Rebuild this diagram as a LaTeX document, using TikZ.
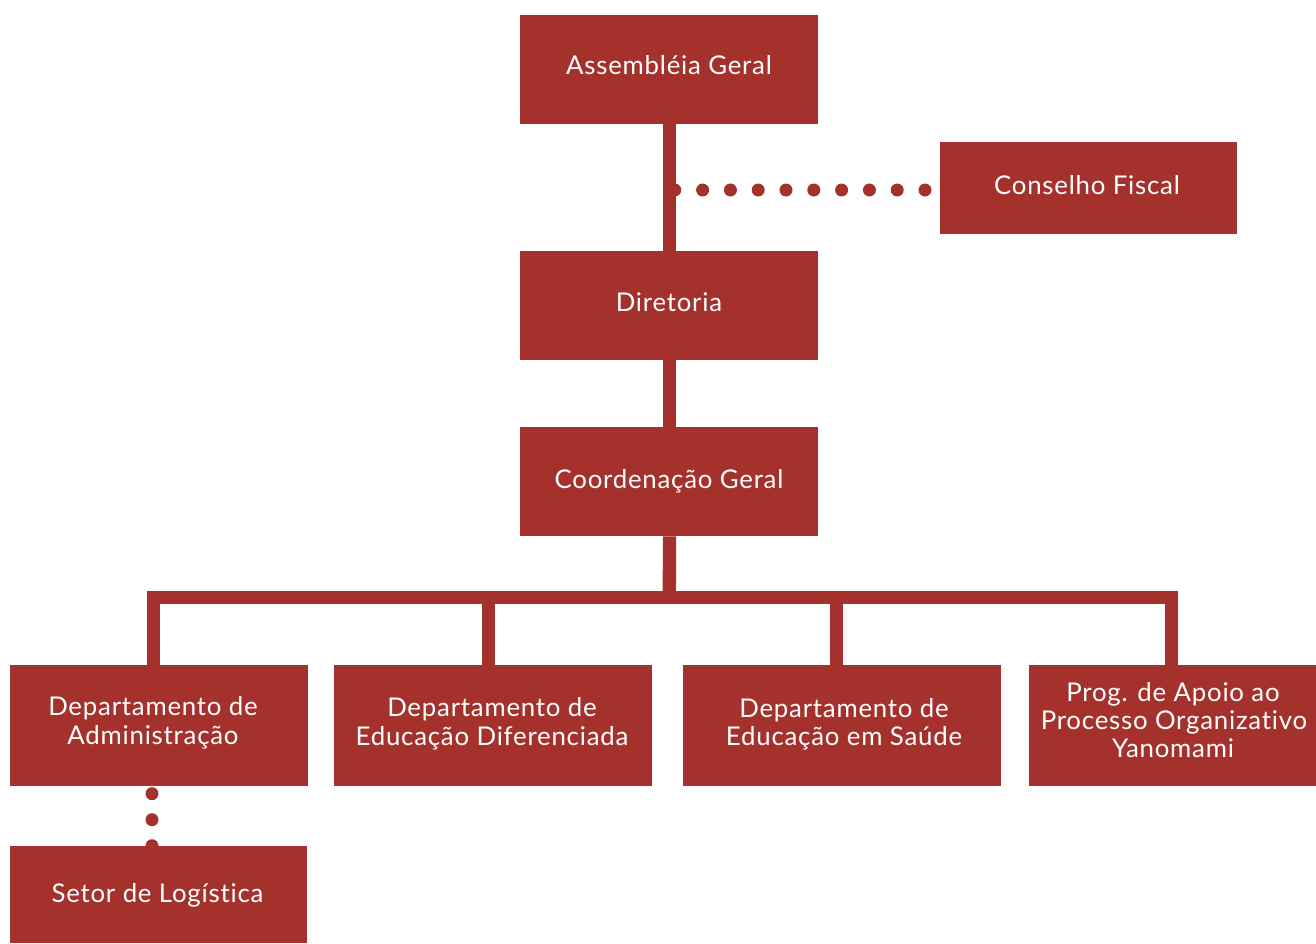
\documentclass[tikz,border=0pt]{standalone}
\usepackage{fontspec}
\setmainfont{Lato}[LetterSpace=3,Ligatures={NoCommon}]
\usetikzlibrary{calc}
\definecolor{org}{RGB}{165,49,45}
\pgfdeclarelayer{bg}
\pgfsetlayers{bg,main}
\begin{document}
\begin{tikzpicture}[x=1pt,y=-1pt,
  box/.style={fill=org,draw=none,inner sep=0pt,anchor=north west},
  lbl/.style={text=white,anchor=base,inner sep=0pt,font=\fontsize{25.8}{29}\selectfont},
  conn/.style={draw=org,line width=13.3pt},
  hdots/.style={draw=org,line width=13pt,line cap=round,dash pattern=on 0pt off 27.8pt},
  vdots/.style={draw=org,line width=13pt,line cap=round,dash pattern=on 0pt off 26pt}]
\useasboundingbox (0,0) rectangle (1316,943);
% boxes
\node[box,minimum width=298pt,minimum height=109pt] (ag) at (520,15) {};
\node[box,minimum width=297pt,minimum height=92pt] (cf) at (940,142) {};
\node[box,minimum width=298pt,minimum height=109pt] (dir) at (520,251) {};
\node[box,minimum width=298pt,minimum height=109pt] (cg) at (520,427) {};
\node[box,minimum width=298pt,minimum height=121pt] (adm) at (10,665) {};
\node[box,minimum width=318pt,minimum height=121pt] (ded) at (334,665) {};
\node[box,minimum width=318pt,minimum height=121pt] (des) at (683,665) {};
\node[box,minimum width=287pt,minimum height=121pt] (prog) at (1029,665) {};
\node[box,minimum width=297pt,minimum height=97pt] (set) at (10,846) {};
% labels
\node[lbl] (agt) at (669,74) {Assembléia Geral};
\node[lbl] (cft) at (1087,194) {Conselho Fiscal};
\node[lbl] (dirt) at (669,311) {Diretoria};
\node[lbl] (cgt) at (669,488) {Coordenação Geral};
\node[lbl] (admt1) at (153,715) {Departamento de};
\node[lbl] (admt2) at (153,744) {Administração};
\node[lbl] (dedt1) at (492,716.5) {Departamento de};
\node[lbl] (dedt2) at (492,745) {Educação Diferenciada};
\node[lbl] (dest1) at (844,717) {Departamento de};
\node[lbl] (dest2) at (844,745) {Educação em Saúde};
\node[lbl] (progt1) at (1173,701) {Prog. de Apoio ao};
\node[lbl] (progt2) at (1174,729) {Processo Organizativo};
\node[lbl] (progt3) at (1173,757) {Yanomami};
\node[lbl] (sett) at (157.5,902.5) {Setor de Logística};
% connectors
\coordinate (fx) at (669.3,190);
\coordinate (bus) at (669.3,597.3);
\begin{pgfonlayer}{bg}
\draw[conn] ([xshift=0.3pt]ag.south) -- ([xshift=0.3pt]dir.north);
\draw[conn] ([xshift=0.3pt]dir.south) -- ([xshift=0.3pt]cg.north);
\draw[conn] ([xshift=0.3pt]cg.south) -- (bus);
\draw[conn] ([xshift=-5.5pt]adm.north) |- (bus) -| ([xshift=-1.5pt]prog.north);
\draw[conn] ([xshift=-4.5pt]ded.north) -- ([xshift=-4.5pt]ded.north |- bus);
\draw[conn] ([xshift=-6pt]des.north) -- ([xshift=-6pt]des.north |- bus);
\draw[hdots] ([xshift=-15pt]cf.west |- fx) -- ([xshift=5.5pt]fx);
\draw[vdots] ($(adm.south west)+(142,7.3)$) -- ($(set.north west)+(142,1.5)$);
\end{pgfonlayer}
\end{tikzpicture}
\end{document}
